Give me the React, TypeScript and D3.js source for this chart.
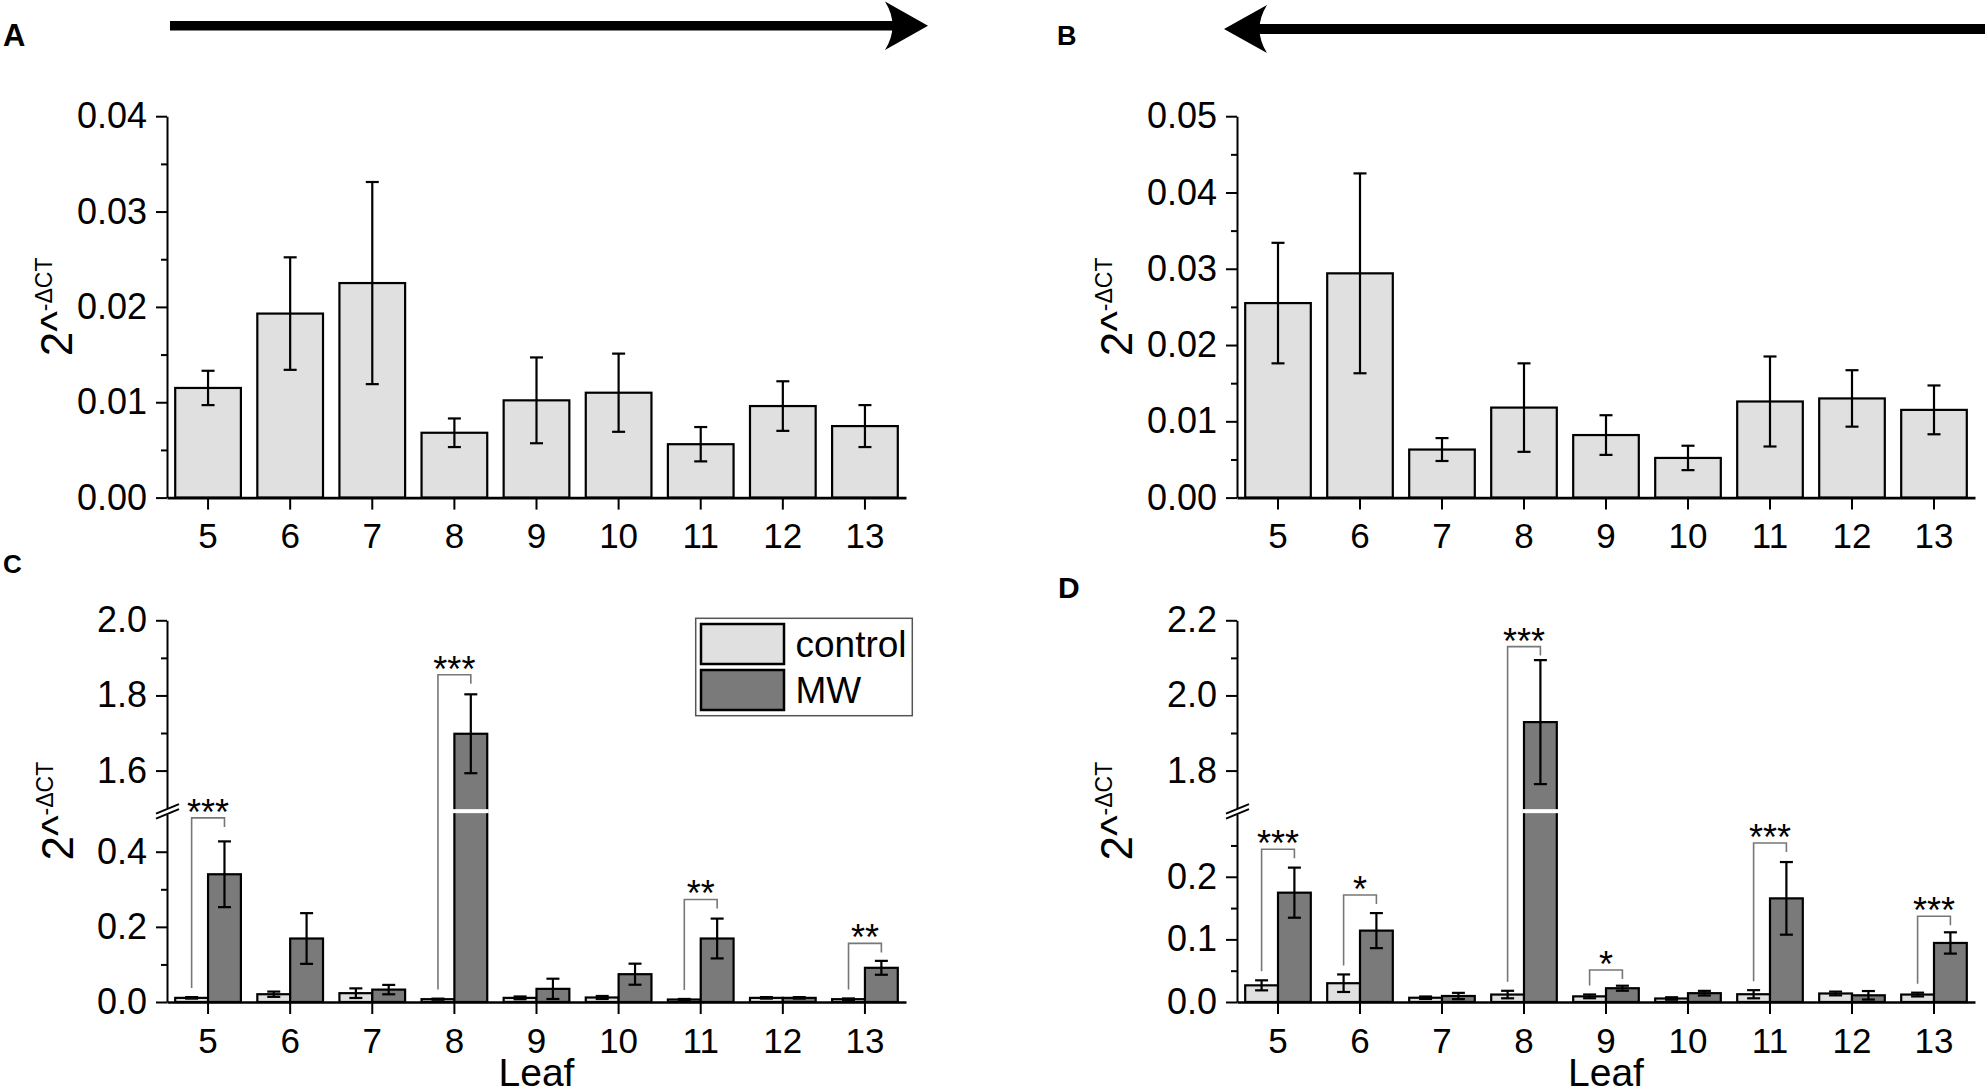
import { useEffect, useRef } from 'react';
import * as d3 from 'd3';

const FONT = "'Liberation Sans', Arial, Helvetica, sans-serif";
const CONTROL_FILL = '#e0e0e0';
const MW_FILL = '#7a7a7a';

const leaves = ['5', '6', '7', '8', '9', '10', '11', '12', '13'];
const seriesNames = ['control', 'MW'];

// panel A (single series)
const aMean = [0.0115, 0.0193, 0.0225, 0.0068, 0.0102, 0.011, 0.0056, 0.0096, 0.0075];
const aErr = [0.0018, 0.0059, 0.0106, 0.0015, 0.0045, 0.0041, 0.0018, 0.0026, 0.0022];

// panel B (single series)
const bMean = [0.0255, 0.0294, 0.0063, 0.0118, 0.0082, 0.0052, 0.0126, 0.013, 0.0115];
const bErr = [0.0079, 0.0131, 0.0015, 0.0058, 0.0026, 0.0016, 0.0059, 0.0037, 0.0032];

// panel C
const cControl = [0.011, 0.0207, 0.0235, 0.0075, 0.011, 0.012, 0.0066, 0.011, 0.0075];
const cControlErr = [0.002, 0.007, 0.0128, 0.0015, 0.0037, 0.004, 0.0015, 0.002, 0.002];
const cMW = [0.34, 0.169, 0.033, 1.698, 0.035, 0.074, 0.169, 0.011, 0.091];
const cMWErr = [0.0875, 0.0675, 0.0125, 0.105, 0.027, 0.028, 0.053, 0.002, 0.0185];
const cBrackets = [
  { leaf: '5', stars: '***', top: 0.49 },
  { leaf: '8', stars: '***', top: 1.855 },
  { leaf: '11', stars: '**', top: 0.273 },
  { leaf: '13', stars: '**', top: 0.156 },
];

// panel D
const dControl = [0.0266, 0.03, 0.0068, 0.0119, 0.009, 0.0056, 0.0124, 0.0136, 0.0119];
const dControlErr = [0.008, 0.014, 0.002, 0.006, 0.003, 0.002, 0.0065, 0.003, 0.003];
const dMW = [0.1746, 0.114, 0.0096, 1.929, 0.022, 0.0141, 0.1655, 0.0107, 0.0943];
const dMWErr = [0.04, 0.028, 0.005, 0.165, 0.004, 0.0037, 0.058, 0.0068, 0.017];
const dBrackets = [
  { leaf: '5', stars: '***', top: 0.244 },
  { leaf: '6', stars: '*', top: 0.171 },
  { leaf: '8', stars: '***', top: 2.13 },
  { leaf: '9', stars: '*', top: 0.051 },
  { leaf: '11', stars: '***', top: 0.254 },
  { leaf: '13', stars: '***', top: 0.137 },
];

// tick values
const aTicks = [0, 0.01, 0.02, 0.03, 0.04];
const aMinor = [0.005, 0.015, 0.025, 0.035];
const bTicks = [0, 0.01, 0.02, 0.03, 0.04, 0.05];
const bMinor = [0.005, 0.015, 0.025, 0.035, 0.045];
const cLowTicks = [0, 0.2, 0.4];
const cLowMinor = [0.1, 0.3];
const cHighTicks = [1.6, 1.8, 2.0];
const cHighMinor = [1.7, 1.9];
const dLowTicks = [0, 0.1, 0.2];
const dLowMinor = [0.05, 0.15, 0.25];
const dHighTicks = [1.8, 2.0, 2.2];
const dHighMinor = [1.9, 2.1];

type Series = { name: string; mean: number[]; err: number[]; fill: string };

interface PanelSpec {
  left: number;
  right: number;
  top: number;
  bottom: number;
  series: Series[];
  fmt: string;
  ticks?: number[];
  minor?: number[];
  yMax?: number;
  broken?: {
    lowMax: number;
    highMin: number;
    highMax: number;
    lowTicks: number[];
    lowMinor: number[];
    highTicks: number[];
    highMinor: number[];
  };
  brackets?: { leaf: string; stars: string; top: number }[];
  yLabelX: number;
  xTitle?: string;
  legend?: boolean;
}

function styleAxis(g: d3.Selection<SVGGElement, unknown, null, undefined>, size: number) {
  g.attr('font-family', FONT).attr('font-size', size);
  g.select('.domain').attr('stroke', '#000').attr('stroke-width', 2);
  g.selectAll('.tick line').attr('stroke', '#000').attr('stroke-width', 2);
  g.selectAll('.tick text').attr('fill', '#000');
}

function drawPanel(root: d3.Selection<SVGGElement, unknown, null, undefined>, p: PanelSpec) {
  const g = root.append('g');
  const x = d3
    .scaleBand<string>()
    .domain(leaves)
    .range([p.left, p.right])
    .paddingInner(0.2)
    .paddingOuter(0.1);

  const gap = 6;
  const breakY = (p.top + p.bottom) / 2;
  let y: (v: number) => number;
  let low: d3.ScaleLinear<number, number> | null = null;
  let high: d3.ScaleLinear<number, number> | null = null;
  let single: d3.ScaleLinear<number, number> | null = null;

  if (p.broken) {
    const b = p.broken;
    low = d3.scaleLinear().domain([0, b.lowMax]).range([p.bottom, breakY + gap / 2]);
    high = d3.scaleLinear().domain([b.highMin, b.highMax]).range([breakY - gap / 2, p.top]);
    y = (v: number) => (v <= b.lowMax ? low!(v) : high!(v));
  } else {
    single = d3.scaleLinear().domain([0, p.yMax!]).range([p.bottom, p.top]);
    y = (v: number) => single!(v);
  }

  const nSeries = p.series.length;
  const sub = d3
    .scaleBand<number>()
    .domain(d3.range(nSeries))
    .range([0, x.bandwidth()]);

  // bars
  p.series.forEach((s, si) => {
    g.append('g')
      .selectAll('rect')
      .data(leaves)
      .enter()
      .append('rect')
      .attr('x', (d) => x(d)! + sub(si)!)
      .attr('width', sub.bandwidth())
      .attr('y', (_, i) => y(s.mean[i]))
      .attr('height', (_, i) => y(0) - y(s.mean[i]))
      .attr('fill', s.fill)
      .attr('stroke', '#000')
      .attr('stroke-width', 2.2);
  });

  // white gap across bars that pass the break
  if (p.broken) {
    p.series.forEach((s, si) => {
      leaves.forEach((d, i) => {
        if (s.mean[i] > p.broken!.lowMax) {
          g.append('rect')
            .attr('x', x(d)! + sub(si)! - 1.5)
            .attr('width', sub.bandwidth() + 3)
            .attr('y', breakY - 2)
            .attr('height', 4)
            .attr('fill', '#fff');
        }
      });
    });
  }

  // error bars
  const cap = 6.5;
  p.series.forEach((s, si) => {
    leaves.forEach((d, i) => {
      const cx = x(d)! + sub(si)! + sub.bandwidth() / 2;
      const y1 = y(s.mean[i] + s.err[i]);
      const y0 = y(Math.max(0, s.mean[i] - s.err[i]));
      const eb = g.append('g').attr('stroke', '#000').attr('stroke-width', 2.2);
      eb.append('line').attr('x1', cx).attr('x2', cx).attr('y1', y0).attr('y2', y1);
      eb.append('line').attr('x1', cx - cap).attr('x2', cx + cap).attr('y1', y1).attr('y2', y1);
      eb.append('line').attr('x1', cx - cap).attr('x2', cx + cap).attr('y1', y0).attr('y2', y0);
    });
  });

  // significance brackets
  if (p.brackets) {
    p.brackets.forEach((b) => {
      const i = leaves.indexOf(b.leaf);
      const xl = x(b.leaf)! + sub(0)! + sub.bandwidth() / 2;
      const xr = x(b.leaf)! + sub(1)! + sub.bandwidth() / 2;
      const yt = y(b.top);
      const yl = y(p.series[0].mean[i] + p.series[0].err[i]) - 9;
      g.append('path')
        .attr('d', `M${xl},${yl}V${yt}H${xr}V${yt + 9}`)
        .attr('fill', 'none')
        .attr('stroke', '#777')
        .attr('stroke-width', 1.6);
      g.append('text')
        .attr('x', (xl + xr) / 2)
        .attr('y', yt + 7)
        .attr('text-anchor', 'middle')
        .attr('font-family', FONT)
        .attr('font-size', 36)
        .text(b.stars);
    });
  }

  // y axis
  if (p.broken && low && high) {
    const b = p.broken;
    const fmt = d3.format(p.fmt);
    const lowAx = g
      .append('g')
      .attr('transform', `translate(${p.left},0)`)
      .call(d3.axisLeft(low).tickValues(b.lowTicks).tickFormat(fmt).tickSize(11).tickSizeOuter(0).tickPadding(9));
    styleAxis(lowAx, 36);
    const highAx = g
      .append('g')
      .attr('transform', `translate(${p.left},0)`)
      .call(d3.axisLeft(high).tickValues(b.highTicks).tickFormat(fmt).tickSize(11).tickSizeOuter(0).tickPadding(9));
    styleAxis(highAx, 36);
    const lm = g
      .append('g')
      .attr('transform', `translate(${p.left},0)`)
      .call(d3.axisLeft(low).tickValues(b.lowMinor).tickFormat(() => '').tickSize(6).tickSizeOuter(0));
    styleAxis(lm, 36);
    lm.select('.domain').remove();
    const hm = g
      .append('g')
      .attr('transform', `translate(${p.left},0)`)
      .call(d3.axisLeft(high).tickValues(b.highMinor).tickFormat(() => '').tickSize(6).tickSizeOuter(0));
    styleAxis(hm, 36);
    hm.select('.domain').remove();

    // break marks
    const bm = g.append('g').attr('stroke', '#000').attr('stroke-width', 2);
    [2.5, 7.5].forEach((dy) => {
      bm.append('line')
        .attr('x1', p.left - 11)
        .attr('y1', breakY + dy)
        .attr('x2', p.left + 12)
        .attr('y2', breakY + dy - 9.5);
    });
  } else if (single) {
    const ax = g
      .append('g')
      .attr('transform', `translate(${p.left},0)`)
      .call(d3.axisLeft(single).tickValues(p.ticks!).tickFormat(d3.format(p.fmt)).tickSize(11).tickSizeOuter(0).tickPadding(9));
    styleAxis(ax, 36);
    const mn = g
      .append('g')
      .attr('transform', `translate(${p.left},0)`)
      .call(d3.axisLeft(single).tickValues(p.minor!).tickFormat(() => '').tickSize(6).tickSizeOuter(0));
    styleAxis(mn, 36);
    mn.select('.domain').remove();
  }

  // x axis
  const xa = g
    .append('g')
    .attr('transform', `translate(0,${p.bottom})`)
    .call(d3.axisBottom(x).tickSize(12).tickSizeOuter(0).tickPadding(14));
  styleAxis(xa, 35);
  xa.select('.domain').attr('stroke-width', 2.6);

  // y label 2^-ΔCT
  const yl = g
    .append('text')
    .attr('transform', `translate(${p.yLabelX},${(p.top + p.bottom) / 2}) rotate(-90)`)
    .attr('text-anchor', 'middle')
    .attr('font-family', FONT)
    .attr('font-size', 44);
  yl.append('tspan').text('2^');
  yl.append('tspan').attr('font-size', 23).attr('dy', -20).text('-ΔCT');

  if (p.xTitle) {
    g.append('text')
      .attr('x', (p.left + p.right) / 2)
      .attr('y', 1086)
      .attr('text-anchor', 'middle')
      .attr('font-family', FONT)
      .attr('font-size', 39)
      .text(p.xTitle);
  }

  if (p.legend) {
    const lg = g.append('g');
    lg.append('rect')
      .attr('x', 695.7)
      .attr('y', 618.3)
      .attr('width', 216.6)
      .attr('height', 97.4)
      .attr('fill', '#fff')
      .attr('stroke', '#555')
      .attr('stroke-width', 1.5);
    p.series.forEach((s, i) => {
      lg.append('rect')
        .attr('x', 701)
        .attr('y', 624 + i * 46)
        .attr('width', 83)
        .attr('height', 40)
        .attr('fill', s.fill)
        .attr('stroke', '#000')
        .attr('stroke-width', 2.5);
      lg.append('text')
        .attr('x', 795.5)
        .attr('y', 656.7 + i * 46.6)
        .attr('font-family', FONT)
        .attr('font-size', 37)
        .text(s.name);
    });
  }
}

export default function App() {
  const svgRef = useRef<SVGSVGElement>(null);

  useEffect(() => {
    if (!svgRef.current) return;
    const svg = d3.select(svgRef.current);
    svg.selectAll('*').remove();
    const root = svg.append('g');

    const single = (m: number[], e: number[]): Series[] => [
      { name: seriesNames[0], mean: m, err: e, fill: CONTROL_FILL },
    ];

    drawPanel(root, {
      left: 167, right: 906, top: 116.2, bottom: 497.6,
      series: single(aMean, aErr), fmt: '.2f', ticks: aTicks, minor: aMinor, yMax: 0.04,
      yLabelX: 72,
    });
    drawPanel(root, {
      left: 1237, right: 1975, top: 116.2, bottom: 497.6,
      series: single(bMean, bErr), fmt: '.2f', ticks: bTicks, minor: bMinor, yMax: 0.05,
      yLabelX: 1132,
    });
    drawPanel(root, {
      left: 167, right: 906, top: 620.3, bottom: 1002,
      series: [
        { name: seriesNames[0], mean: cControl, err: cControlErr, fill: CONTROL_FILL },
        { name: seriesNames[1], mean: cMW, err: cMWErr, fill: MW_FILL },
      ],
      fmt: '.1f',
      broken: {
        lowMax: 0.5, highMin: 1.5, highMax: 2.0,
        lowTicks: cLowTicks, lowMinor: cLowMinor, highTicks: cHighTicks, highMinor: cHighMinor,
      },
      brackets: cBrackets, yLabelX: 73, xTitle: 'Leaf', legend: true,
    });
    drawPanel(root, {
      left: 1237, right: 1975, top: 620.3, bottom: 1002,
      series: [
        { name: seriesNames[0], mean: dControl, err: dControlErr, fill: CONTROL_FILL },
        { name: seriesNames[1], mean: dMW, err: dMWErr, fill: MW_FILL },
      ],
      fmt: '.1f',
      broken: {
        lowMax: 0.3, highMin: 1.7, highMax: 2.2,
        lowTicks: dLowTicks, lowMinor: dLowMinor, highTicks: dHighTicks, highMinor: dHighMinor,
      },
      brackets: dBrackets, yLabelX: 1132, xTitle: 'Leaf',
    });

    // direction arrows
    const arrows = root.append('g').attr('fill', '#000');
    arrows.append('rect').attr('x', 170).attr('y', 21).attr('width', 732).attr('height', 9.5);
    arrows.append('path').attr('d', 'M928,25.7L885,1.5Q900,25.7 885,50Z');
    arrows.append('rect').attr('x', 1250).attr('y', 24).attr('width', 735).attr('height', 10);
    arrows.append('path').attr('d', 'M1224,29L1267,5Q1252,29 1267,53Z');

    // panel letters
    const letters = [
      { t: 'A', x: 3, y: 46, s: 31 },
      { t: 'B', x: 1057, y: 45, s: 27 },
      { t: 'C', x: 3, y: 573, s: 26 },
      { t: 'D', x: 1058, y: 598, s: 30 },
    ];
    letters.forEach((l) => {
      root.append('text')
        .attr('x', l.x)
        .attr('y', l.y)
        .attr('font-family', FONT)
        .attr('font-weight', 'bold')
        .attr('font-size', l.s)
        .text(l.t);
    });
  }, []);

  return (
    <svg
      ref={svgRef}
      width={1985}
      height={1092}
      style={{ position: 'absolute', left: 0, top: 0, background: '#fff' }}
    />
  );
}
